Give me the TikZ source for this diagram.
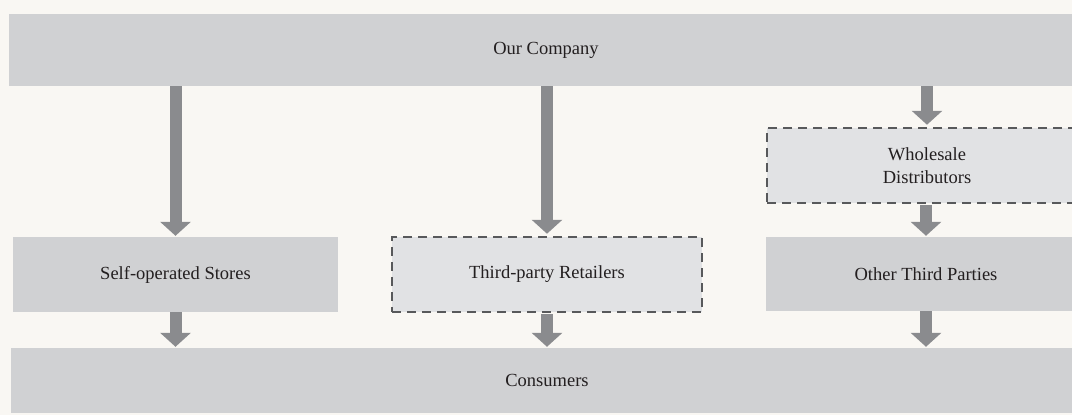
\documentclass[tikz,border=0pt]{standalone}
\usepackage{fontspec}
\setmainfont{Liberation Serif}
\usetikzlibrary{arrows.meta}
\definecolor{bgcol}{HTML}{F9F7F3}
\definecolor{boxgray}{HTML}{D0D1D3}
\definecolor{dashgray}{HTML}{E1E2E4}
\definecolor{edgegray}{HTML}{58595B}
\definecolor{arrowgray}{HTML}{8A8B8E}
\definecolor{txtcol}{HTML}{231F20}
\begin{document}
\begin{tikzpicture}[x=1pt,y=-1pt,
	box/.style={fill=boxgray,text=txtcol,inner sep=0pt,align=center,font=\fontsize{18.5}{23}\selectfont},
	dashbox/.style={box,fill=dashgray,draw=edgegray,line width=2.5pt,dash pattern=on 9pt off 6pt},
	flow/.style={draw=arrowgray,line width=12pt,-{Triangle[width=30pt,length=14pt]}}]
				\fill[bgcol] (0,0) rectangle (1072,415);
				\useasboundingbox (0,0) rectangle (1072,415);
				
				% boxes
				\node[box,minimum width=1074,minimum height=72] (company) at (546,50) {Our Company};
				\node[box,minimum width=325,minimum height=75] (self) at (175.5,274.5) {Self-operated Stores};
				\node[dashbox,minimum width=310,minimum height=75] (third) at (547,274.5) {Third-party Retailers};
				\node[dashbox,minimum width=320,minimum height=75] (wholesale) at (927,165.5) {Wholesale\\Distributors};
				\node[box,minimum width=320,minimum height=74] (other) at (926,274) {Other Third Parties};
				\node[box,minimum width=1072,minimum height=65] (consumers) at (547,380.5) {Consumers};
				
				% flows
				\draw[flow] (company.south -| self.north) -- ([yshift=1pt]self.north);
				\draw[flow] (company.south -| third.north) -- ([yshift=2pt]third.north);
				\draw[flow] (company.south -| wholesale.north) -- ([yshift=2pt]wholesale.north);
				\draw[flow] ([yshift=-1pt]wholesale.south -| other.north) -- ([yshift=1pt]other.north);
				
				\draw[flow] (self.south) -- ([yshift=1pt]consumers.north -| self.south);
				\draw[flow] ([yshift=-1pt]third.south) -- ([yshift=1pt]consumers.north -| third.south);
				\draw[flow] (other.south) -- ([yshift=1pt]consumers.north -| other.south);
			\end{tikzpicture}
\end{document}
